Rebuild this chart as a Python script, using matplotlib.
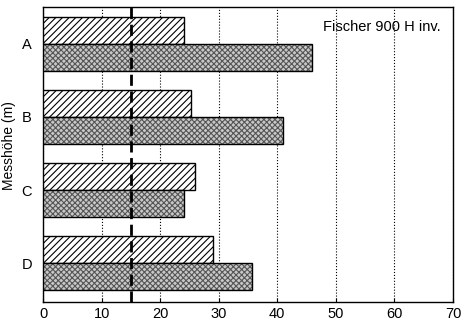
import matplotlib
matplotlib.use("Agg")
import matplotlib.pyplot as plt
import numpy as np

plt.rcParams["font.family"] = ["Liberation Sans", "DejaVu Sans"]
plt.rcParams["hatch.linewidth"] = 0.8

categories = ["A", "B", "C", "D"]
hatched_values = [24.1, 25.3, 26.0, 29.0]
gray_values = [46.0, 41.0, 24.0, 35.7]
reference_value = 15
x_ticks = [0, 10, 20, 30, 40, 50, 60, 70]


def visualize():
    fig = plt.figure(figsize=(4.71, 3.24), dpi=100)
    ax = fig.add_axes([43 / 471, 1 - 302 / 324, 410 / 471, 295 / 324])

    y = np.arange(len(categories))
    h = 0.37
    ax.barh(y - h / 2, hatched_values, height=h, facecolor="white",
            edgecolor="black", hatch="/////", linewidth=1.0, zorder=3)
    # gray screened bars: light fill, gray cross hatch, black outline on top
    ax.barh(y + h / 2, gray_values, height=h, facecolor="#c8c8c8",
            edgecolor="#555555", hatch="xxxxxx", linewidth=0, zorder=3)
    ax.barh(y + h / 2, gray_values, height=h, facecolor="none",
            edgecolor="black", linewidth=1.0, zorder=3)

    ax.axvline(reference_value, color="black", linestyle=(0, (4, 2)),
               linewidth=2.0, zorder=4)

    ax.set_xlim(0, 70)
    ax.set_ylim(3.53, -0.5)
    ax.set_xticks(x_ticks)
    ax.set_yticks(y)
    ax.set_yticklabels(categories)
    ax.tick_params(axis="both", labelsize=10.5, direction="in", length=3)
    ax.tick_params(axis="y", length=0, pad=8)

    ax.grid(True, axis="x", color="black", linestyle=":", linewidth=0.8, zorder=0)
    for s in ax.spines.values():
        s.set_linewidth(1.0)

    ax.text(0.97, 0.955, "Fischer 900 H inv.", transform=ax.transAxes,
            ha="right", va="top", fontsize=10.5)

    fig.text(0.004, 0.55, "Messhöhe (m)", rotation=90, ha="left",
             va="center", fontsize=10)

    fig.savefig("out.png", dpi=100)


if __name__ == "__main__":
    visualize()
